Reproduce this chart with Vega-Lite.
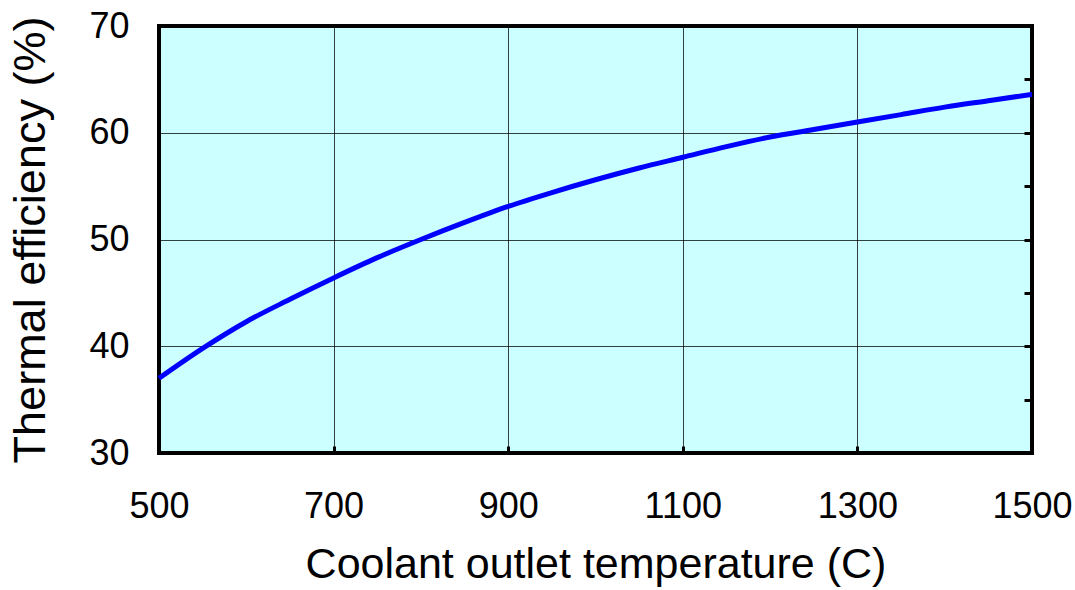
{
  "$schema": "https://vega.github.io/schema/vega-lite/v6.json",
  "width": 873,
  "height": 427,
  "autosize": "none",
  "padding": {"left": 159, "top": 26, "right": 43, "bottom": 137},
  "background": "white",
  "config": {
    "view": {"fill": "#CCFFFF", "stroke": "black", "strokeWidth": 4},
    "font": "Liberation Sans",
    "axis": {
      "labelFont": "Liberation Sans",
      "titleFont": "Liberation Sans",
      "labelColor": "black",
      "titleColor": "black",
      "titleFontWeight": "normal",
      "domain": false,
      "labelFlush": false,
      "labelOverlap": false,
      "labelBound": false,
      "gridColor": "#000000",
      "gridOpacity": 0.75,
      "gridWidth": 1
    }
  },
  "data": {
    "values": [
      {"t": 500, "eff": 37.0},
      {"t": 550, "eff": 39.8},
      {"t": 600, "eff": 42.3},
      {"t": 650, "eff": 44.4},
      {"t": 700, "eff": 46.4},
      {"t": 750, "eff": 48.3},
      {"t": 800, "eff": 50.0},
      {"t": 850, "eff": 51.6},
      {"t": 900, "eff": 53.1},
      {"t": 950, "eff": 54.4},
      {"t": 1000, "eff": 55.6},
      {"t": 1050, "eff": 56.7},
      {"t": 1100, "eff": 57.7},
      {"t": 1150, "eff": 58.7},
      {"t": 1200, "eff": 59.6},
      {"t": 1250, "eff": 60.3},
      {"t": 1300, "eff": 61.0},
      {"t": 1350, "eff": 61.7},
      {"t": 1400, "eff": 62.4},
      {"t": 1450, "eff": 63.0},
      {"t": 1500, "eff": 63.6}
    ]
  },
  "layer": [
    {
      "mark": {"type": "line", "opacity": 0},
      "encoding": {
        "x": {
          "field": "t", "type": "quantitative",
          "scale": {"domain": [500, 1500], "nice": false, "zero": false},
          "axis": {
            "orient": "bottom",
            "values": [500, 700, 900, 1100, 1300, 1500],
            "format": "d",
            "grid": true,
            "ticks": true,
            "tickSize": -7,
            "tickWidth": 3,
            "tickColor": "black",
            "labelFontSize": 36,
            "labelPadding": 43,
            "title": "Coolant outlet temperature (C)",
            "titleFontSize": 43,
            "titlePadding": 19
          }
        },
        "y": {
          "field": "eff", "type": "quantitative",
          "scale": {"domain": [30, 70], "nice": false, "zero": false},
          "axis": {
            "orient": "right",
            "values": [35, 40, 45, 50, 55, 60, 65],
            "labels": false,
            "grid": false,
            "ticks": true,
            "tickSize": -8,
            "tickWidth": 3,
            "tickColor": "black",
            "title": null
          }
        }
      }
    },
    {
      "mark": {"type": "line", "color": "#0000FF", "strokeWidth": 5, "interpolate": "monotone"},
      "encoding": {
        "x": {
          "field": "t", "type": "quantitative",
          "scale": {"domain": [500, 1500], "nice": false, "zero": false}
        },
        "y": {
          "field": "eff", "type": "quantitative",
          "scale": {"domain": [30, 70], "nice": false, "zero": false},
          "axis": {
            "orient": "left",
            "values": [30, 40, 50, 60, 70],
            "grid": true,
            "ticks": false,
            "labelFontSize": 36,
            "labelPadding": 30,
            "title": "Thermal efficiency (%)",
            "titleFontSize": 45,
            "titlePadding": 35
          }
        }
      }
    }
  ],
  "resolve": {"axis": {"y": "independent"}}
}
